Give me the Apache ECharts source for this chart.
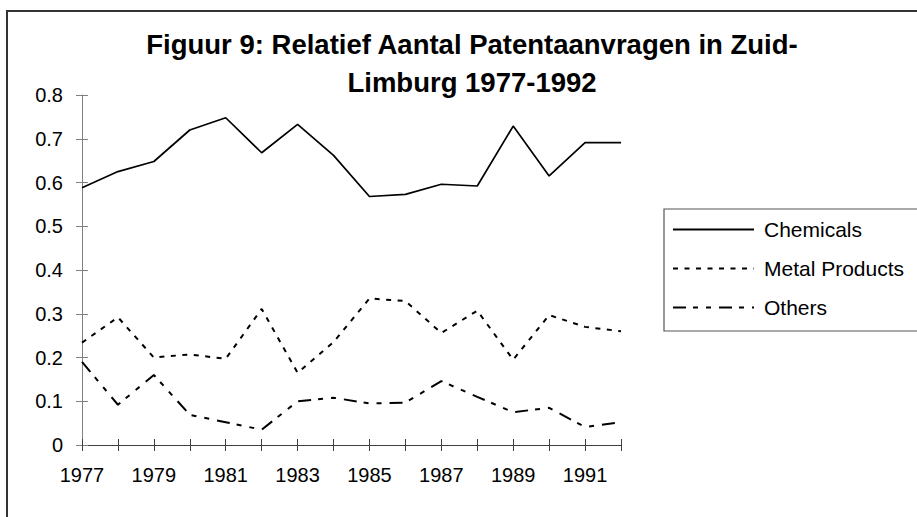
<!DOCTYPE html>
<html>
<head>
<meta charset="utf-8">
<script src="https://cdn.jsdelivr.net/npm/echarts@6/dist/echarts.min.js"></script>
<style>
html,body{margin:0;padding:0;background:#fff;}
#chart{width:917px;height:517px;}
</style>
</head>
<body>
<div id="chart"></div>
<script>
const years = ['1977','1978','1979','1980','1981','1982','1983','1984','1985','1986','1987','1988','1989','1990','1991','1992'];
const chemicals = [0.588, 0.625, 0.648, 0.720, 0.748, 0.668, 0.733, 0.662, 0.568, 0.573, 0.596, 0.592, 0.729, 0.615, 0.691, 0.691];
const metalProducts = [0.234, 0.292, 0.200, 0.207, 0.197, 0.311, 0.165, 0.235, 0.335, 0.329, 0.256, 0.307, 0.195, 0.297, 0.270, 0.260];
const others = [0.190, 0.092, 0.160, 0.069, 0.052, 0.035, 0.100, 0.108, 0.095, 0.097, 0.146, 0.110, 0.075, 0.085, 0.041, 0.052];
const seriesNames = ['Chemicals', 'Metal Products', 'Others'];
const titleText = 'Figuur 9: Relatief Aantal Patentaanvragen in Zuid-\nLimburg 1977-1992';

const FONT = '"Liberation Sans", Arial, sans-serif';
const chart = echarts.init(document.getElementById('chart'), null, {renderer: 'svg'});

const option = {
  backgroundColor: '#fff',
  animation: false,
  title: {
    text: titleText,
    left: 472,
    top: 25,
    padding: 0,
    textAlign: 'center',
    textStyle: {fontFamily: FONT, fontSize: 27.5, fontWeight: 'bold', color: '#000', lineHeight: 38}
  },
  graphic: [{
    type: 'rect', silent: true, z: -1,
    shape: {x: 7, y: 11, width: 1000, height: 1000},
    style: {fill: 'none', stroke: '#333', lineWidth: 2}
  }],
  legend: {
    orient: 'vertical',
    left: 664,
    top: 209,
    padding: [10, 30, 13, 8],
    itemGap: 18,
    itemWidth: 81,
    itemHeight: 20,
    borderColor: '#555',
    borderWidth: 1.2,
    itemStyle: {opacity: 0},
    textStyle: {fontFamily: FONT, fontSize: 21, color: '#000', padding: [0, 0, 0, 5]},
    data: seriesNames
  },
  grid: {left: 82, right: 296, top: 95, bottom: 72, containLabel: false},
  xAxis: [{
    type: 'category',
    data: years,
    boundaryGap: false,
    axisLine: {lineStyle: {color: '#404040', width: 1}},
    axisTick: {show: true, interval: 0, length: 6, lineStyle: {color: '#404040'}},
    axisLabel: {interval: 1, margin: 20, fontFamily: FONT, fontSize: 20, color: '#000'},
    splitLine: {show: false}
  }, {
    type: 'category',
    data: years,
    boundaryGap: false,
    position: 'bottom',
    axisLine: {show: false},
    axisTick: {show: true, inside: true, interval: 0, length: 6, lineStyle: {color: '#404040'}},
    axisLabel: {show: false},
    splitLine: {show: false}
  }],
  yAxis: [{
    type: 'value',
    min: 0, max: 0.8, interval: 0.1,
    axisLine: {show: true, lineStyle: {color: '#808080', width: 1}},
    axisTick: {show: true, length: 6, lineStyle: {color: '#808080'}},
    axisLabel: {margin: 19, fontFamily: FONT, fontSize: 20, color: '#000',
      formatter: v => String(+v.toFixed(1))},
    splitLine: {show: false}
  }, {
    type: 'value',
    position: 'left',
    min: 0, max: 0.8, interval: 0.1,
    axisLine: {show: false},
    axisTick: {show: true, inside: true, length: 6, lineStyle: {color: '#808080'}},
    axisLabel: {show: false},
    splitLine: {show: false}
  }],
  series: [{
    name: seriesNames[0], type: 'line', data: chemicals, symbol: 'none',
    lineStyle: {color: '#000', width: 1.7, type: 'solid'}, itemStyle: {color: '#000'}
  }, {
    name: seriesNames[1], type: 'line', data: metalProducts, symbol: 'none',
    lineStyle: {color: '#000', width: 2, type: [5, 6.5]}, itemStyle: {color: '#000'}
  }, {
    name: seriesNames[2], type: 'line', data: others, symbol: 'none',
    lineStyle: {color: '#000', width: 2, type: [13, 7, 5, 8, 5, 8]}, itemStyle: {color: '#000'}
  }]
};
chart.setOption(option);
</script>
</body>
</html>
